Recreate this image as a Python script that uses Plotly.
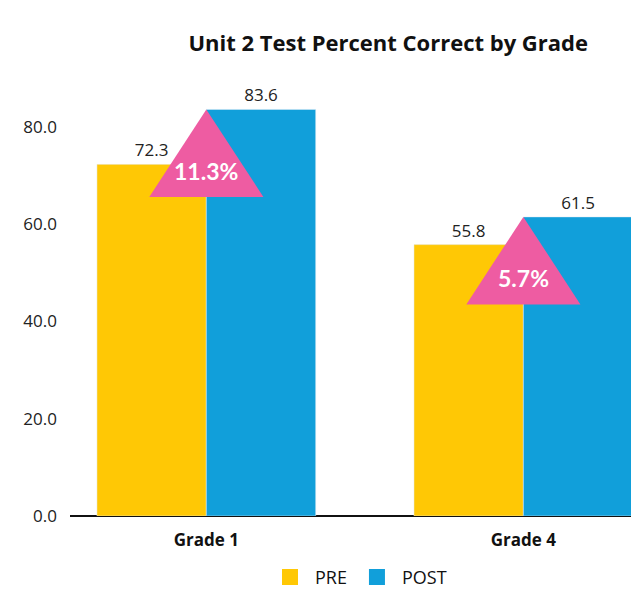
import plotly.graph_objects as go

categories = ["Grade 1", "Grade 4"]
pre_values = [72.3, 55.8]
post_values = [83.6, 61.5]
series_names = ["PRE", "POST"]
y_ticks = [0, 20, 40, 60, 80]

PRE_COLOR = "#FFC805"
POST_COLOR = "#119FDA"
PINK = "#EE5CA2"

x_idx = list(range(len(categories)))
bar_w = 0.345

fig = go.Figure()
for vals, name, color, off in [(pre_values, series_names[0], PRE_COLOR, -bar_w),
                               (post_values, series_names[1], POST_COLOR, 0)]:
    fig.add_trace(go.Bar(
        x=x_idx, y=vals, name=name, marker_color=color,
        width=bar_w, offset=off, showlegend=False, legendgroup=name,
        text=[f"{v:.1f}" for v in vals], textposition="outside",
        textfont=dict(size=17, color="#222222", family="Open Sans"),
        cliponaxis=False,
    ))

tri_half = 0.18
tri_h = 18
for i, (a, b) in enumerate(zip(pre_values, post_values)):
    diff = b - a
    fig.add_trace(go.Scatter(
        x=[i, i - tri_half, i + tri_half, i],
        y=[b, b - tri_h, b - tri_h, b],
        fill="toself", fillcolor=PINK, mode="lines",
        line=dict(width=0, color=PINK), showlegend=False, hoverinfo="skip",
    ))
    fig.add_annotation(
        x=i, y=b - tri_h * 0.7, text=f"<b>{diff:.1f}%</b>", showarrow=False,
        font=dict(size=23, color="white", family="Lato"),
    )

# legend entries with larger square swatches
for name, color in [(series_names[0], PRE_COLOR), (series_names[1], POST_COLOR)]:
    fig.add_trace(go.Scatter(
        x=[None], y=[None], mode="markers", name=name, legendgroup=name,
        marker=dict(symbol="square", size=20, color=color),
    ))

fig.update_layout(
    width=639, height=596,
    margin=dict(l=62, r=0, t=80, b=88),
    paper_bgcolor="white", plot_bgcolor="white",
    title=dict(text="<b>Unit 2 Test Percent Correct by Grade</b>",
               x=0.595, xanchor="center", y=0.94, yanchor="middle",
               font=dict(size=22, color="#111111", family="Open Sans")),
    barmode="overlay",
    showlegend=True,
    legend=dict(orientation="h", x=0.5, xanchor="center", y=-0.1, yanchor="top",
                font=dict(size=18, color="#111111", family="Open Sans"),
                itemwidth=40, traceorder="normal", itemsizing="trace"),
    font=dict(family="Open Sans"),
)
fig.update_xaxes(
    range=[-0.43, 1.39], tickvals=x_idx, ticktext=[f"<b>{c}</b>" for c in categories],
    tickfont=dict(size=17, color="#111111"), showgrid=False, zeroline=False,
    showline=False, ticks="", ticklabelstandoff=12,
)
fig.update_yaxes(
    range=[0, 88], tickvals=y_ticks, tickformat=".1f", showgrid=False,
    zeroline=True, zerolinecolor="#111111", zerolinewidth=1.5,
    tickfont=dict(size=17, color="#222222"), showline=False, ticks="",
    ticklabelstandoff=12,
)

fig.write_html("out.html")
